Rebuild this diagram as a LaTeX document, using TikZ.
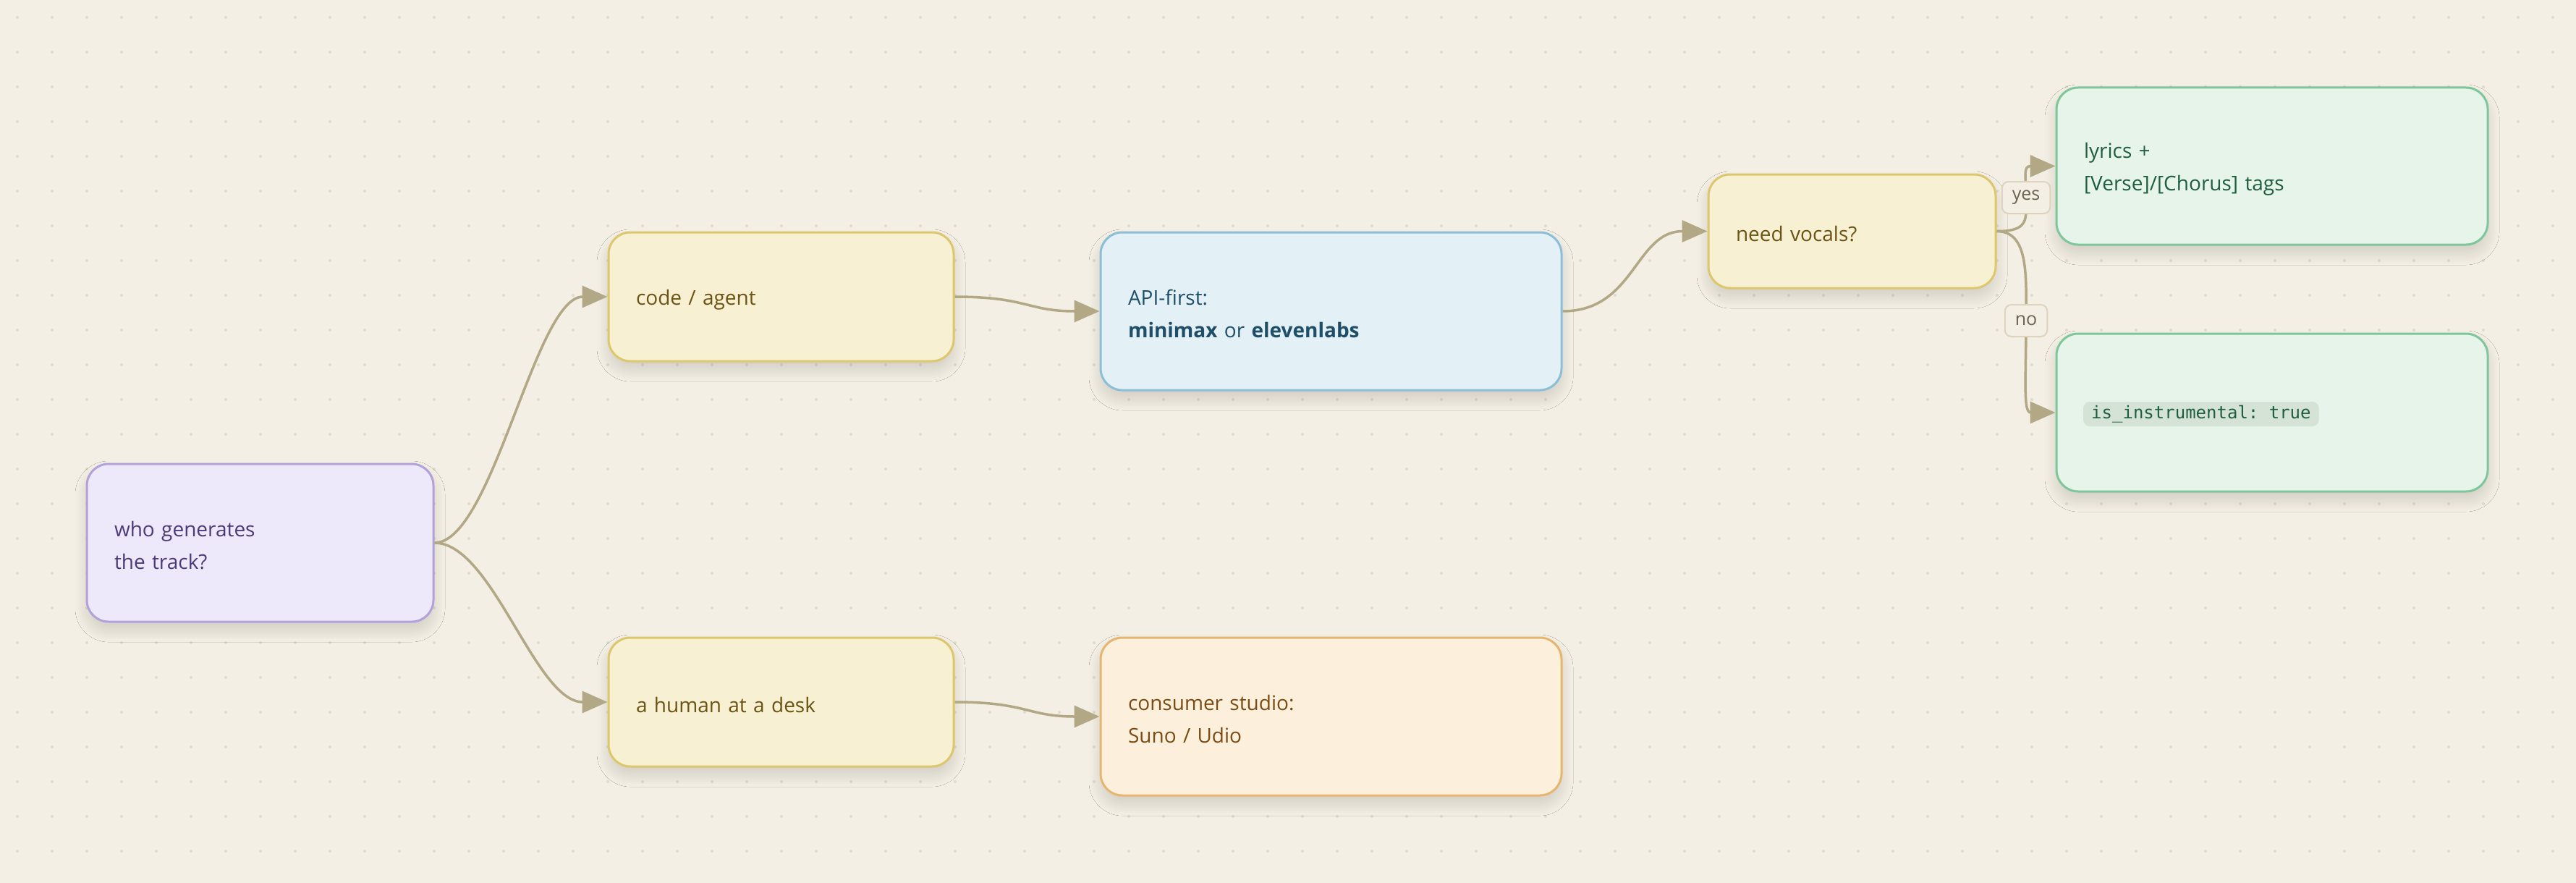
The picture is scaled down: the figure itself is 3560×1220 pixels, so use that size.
\documentclass[tikz,border=0pt]{standalone}
\usepackage{fontspec}
\setmainfont{Open Sans}
\setmonofont{DejaVu Sans Mono}
\usetikzlibrary{arrows.meta,shadows.blur}
\definecolor{bg}{HTML}{F3EFE4}
\definecolor{dotc}{HTML}{E2DCCE}
\definecolor{conn}{HTML}{B2A886}
\definecolor{shadowc}{HTML}{6E5A3C}
\definecolor{purfill}{HTML}{EEE9FA}\definecolor{purline}{HTML}{B3A1DA}\definecolor{purtext}{HTML}{4A3B78}
\definecolor{yelfill}{HTML}{F8F0D3}\definecolor{yelline}{HTML}{DCC76C}\definecolor{yeltext}{HTML}{6B5314}
\definecolor{blufill}{HTML}{E3F0F6}\definecolor{bluline}{HTML}{8DBED8}\definecolor{blutext}{HTML}{1F4F68}
\definecolor{orafill}{HTML}{FCEFDC}\definecolor{oraline}{HTML}{E6B670}\definecolor{oratext}{HTML}{7A4C14}
\definecolor{grnfill}{HTML}{E6F4E9}\definecolor{grnline}{HTML}{80C69B}\definecolor{grntext}{HTML}{1F5E3E}
\definecolor{chipfill}{HTML}{D5E3D6}
\definecolor{lblfill}{HTML}{F4EFE4}\definecolor{lblline}{HTML}{DDD3BE}\definecolor{lbltext}{HTML}{6B6352}
\begin{document}
\begin{tikzpicture}[x=1pt,y=-1pt,
  box/.style={rectangle, rounded corners=30pt, line width=3pt, inner xsep=38pt, inner ysep=0pt,
    align=left, font=\fontsize{28}{45}\selectfont,
    execute at begin node={\rule{0pt}{29pt}},
    blur shadow={shadow xshift=0pt, shadow yshift=-12pt, shadow blur radius=16pt,
      shadow blur steps=14, shadow opacity=14, shadow blur extra rounding=0pt, fill=shadowc}},
  purbox/.style={box, fill=purfill, draw=purline, text=purtext},
  yelbox/.style={box, fill=yelfill, draw=yelline, text=yeltext},
  blubox/.style={box, fill=blufill, draw=bluline, text=blutext},
  orabox/.style={box, fill=orafill, draw=oraline, text=oratext},
  grnbox/.style={box, fill=grnfill, draw=grnline, text=grntext},
  conn/.style={draw=conn, line width=3.5pt, -{Triangle[length=35pt,width=30pt]}},
  lbl/.style={rectangle, rounded corners=9pt, fill=lblfill, draw=lblline, line width=2pt,
    text=lbltext, font=\fontsize{25}{30}\selectfont, minimum height=44pt, inner xsep=14pt, inner ysep=0pt},
  chip/.style={rectangle, rounded corners=9pt, fill=chipfill, text=grntext,
    font=\ttfamily\fontsize{24}{28}\selectfont, minimum height=34pt, inner xsep=11pt, inner ysep=0pt}
]
\useasboundingbox (0,0) rectangle (3560,1220);
\fill[bg] (0,0) rectangle (3560,1220);
\foreach \i in {0,...,73}{\foreach \j in {0,...,24}{\fill[dotc] (24+48*\i,24+48*\j) circle (2.2pt);}}

\node[purbox, text width=403pt, minimum height=218pt] (who) at (359.5,750) {who generates\\the track?};
\node[yelbox, text width=401pt, minimum height=178pt] (code) at (1079.5,410) {code / agent};
\node[yelbox, text width=401pt, minimum height=178pt] (human) at (1079.5,970) {a human at a desk};
\node[blubox, text width=561pt, minimum height=218pt] (api) at (1839.5,430) {API-first:\\\textbf{minimax} or \textbf{elevenlabs}};
\node[orabox, text width=561pt, minimum height=218pt] (cons) at (1839.5,990) {consumer studio:\\Suno / Udio};
\node[yelbox, text width=321pt, minimum height=157pt] (need) at (2559.5,319.5) {need vocals?};
\node[grnbox, text width=520pt, minimum height=217pt] (lyrics) at (3140,229.5) {lyrics +\\{[}Verse{]}/{[}Chorus{]} tags};
\node[grnbox, text width=520pt, minimum height=218pt] (instr) at (3140,570) {};
\node[chip, anchor=west] (flag) at (2879,572) {is\_instrumental: true};

\draw[conn] (who.east) .. controls +(80,0) and +(-100,0) .. (code.west);
\draw[conn] (who.east) .. controls +(80,0) and +(-100,0) .. (human.west);
\draw[conn] (code.east) .. controls +(100,0) and +(-100,0) .. (api.west);
\draw[conn] (human.east) .. controls +(100,0) and +(-100,0) .. (cons.west);
\draw[conn] (api.east) .. controls +(100,0) and +(-100,0) .. (need.west);
\coordinate (yesc) at (2800,273);
\coordinate (noc) at (2800,443);
\draw[conn] (need.east) .. controls +(45,0) and +(0,30) .. (yesc) .. controls +(0,-30) and +(-45,0) .. (lyrics.west);
\draw[conn] (need.east) .. controls +(45,0) and +(0,-60) .. (noc) .. controls +(0,80) and +(-45,0) .. (instr.west);
\node[lbl] (yes) at (yesc) {yes};
\node[lbl] (no) at (noc) {no};
\end{tikzpicture}
\end{document}
